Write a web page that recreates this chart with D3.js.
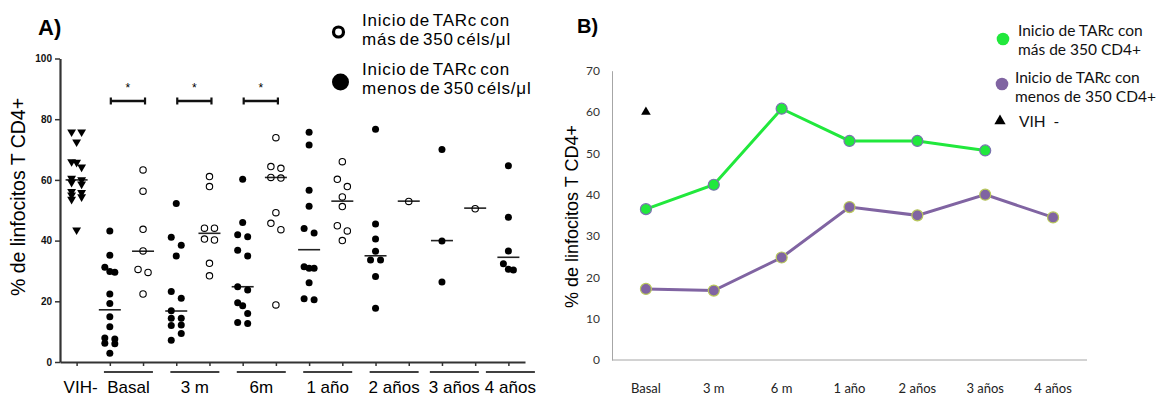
<!DOCTYPE html>
<html><head><meta charset="utf-8">
<script src="https://cdn.jsdelivr.net/npm/d3@7"></script>
<style>body{margin:0;background:#fff}svg{display:block}</style>
</head><body>
<svg id="c" width="1162" height="396"></svg>
<script>
// ---------------- DATA ----------------
const timeLabelsA = ["Basal","3 m","6m","1 año","2 años","3 años","4 años"];
const timeLabelsB = ["Basal","3 m","6 m","1 año","2 años","3 años","4 años"];
const vihLabel = "VIH-";
const yTicksA = [0,20,40,60,80,100];
const yTicksB = [0,10,20,30,40,50,60,70];

// Panel A individual values (% CD4+)
const vihValues = [75.8,75.8,72.5,66.0,65.8,64.2,60.5,60.0,59.2,58.6,56.2,55.8,55.0,54.4,53.6,43.5];
const menosBasal = [43.2,35.2,31.2,29.8,29.6,22.4,19.3,14.9,11.6,7.9,7.6,6.2,6.0,2.9];
const menos3m    = [52.2,41.1,38.5,34.9,23.2,21.0,16.9,14.4,14.4,12.2,12.0,9.4,7.2];
const menos6m    = [60.2,46.0,41.9,41.3,36.8,34.9,24.8,23.7,19.5,18.5,16.0,13.0,12.7];
const menos1a    = [75.7,71.5,56.6,51.3,44.0,42.5,31.4,30.9,30.9,26.1,20.8,20.5];
const menos2a    = [76.7,45.5,40.5,36.5,33.6,33.6,28.2,17.7];
const menos3a    = [70.0,39.9,26.4];
const menos4a    = [64.7,47.7,36.6,32.4,30.6,30.3];
const masBasal = [63.3,56.3,43.7,36.6,30.5,29.5,22.4];
const mas3m    = [61.1,57.8,44.1,44.1,40.5,40.2,32.5,28.4];
const mas6m    = [73.9,64.4,63.8,60.8,60.6,49.2,45.7,43.6,18.8];
const mas1a    = [66.0,60.2,57.8,54.4,51.2,44.9,43.2,40.0];
const mas2a    = [52.9];
const mas3a    = [50.5];
const mas4a    = [];
const menosPoints = [menosBasal,menos3m,menos6m,menos1a,menos2a,menos3a,menos4a];
const masPoints   = [masBasal,mas3m,mas6m,mas1a,mas2a,mas3a,mas4a];

// Central values (panel A lines = panel B series)
const masLine   = [36.5,42.4,60.8,53.0,53.0,50.7,null];
const menosLine = [17.2,16.8,24.8,37.0,35.0,40.0,34.5];
const vihLine   = 60;

// Significance (*) groups in panel A
const sigIndex = [0,1,2];
const sigValue = 86;

// Legend texts
const legA = [["Inicio de TARc con","más de 350 céls/μl"],["Inicio de TARc con","menos de 350 céls/μl"]];
const legB = [["Inicio de TARc con","más de 350 CD4+"],["Inicio de TARc con","menos de 350 CD4+"],["VIH  -"]];
const yTitle = "% de linfocitos T CD4+";

// ---------------- DRAW ----------------
const svg = d3.select("#c");
const fA = "'Liberation Sans', Arial, sans-serif";
const fB = "Lato, 'Open Sans', sans-serif";

// ===== Panel A =====
const xA = d3.scaleLinear([-0.5,13.5],[60,525]);
const yA = d3.scaleLinear([0,100],[362,58.5]);
const gA = svg.append("g");

gA.append("text").attr("x",38).attr("y",35).attr("font-family",fA).attr("font-weight","bold")
  .attr("font-size",22).text("A)");

gA.append("text").attr("transform",`translate(25,197) rotate(-90)`)
  .attr("text-anchor","middle").attr("font-family",fA).attr("font-size",19.5).text(yTitle);

const axY = gA.append("g").attr("transform","translate(60,0)")
  .call(d3.axisLeft(yA).tickValues(yTicksA).tickSize(5).tickSizeOuter(0).tickPadding(3));
axY.select(".domain").attr("stroke","#333").attr("stroke-width",2.2);
axY.selectAll(".tick line").attr("stroke","#333").attr("stroke-width",1.5);
axY.selectAll(".tick text").attr("font-family",fA).attr("font-weight","bold").attr("font-size",10).attr("fill","#111");

const axX = gA.append("g").attr("transform",`translate(0,${yA(0)})`)
  .call(d3.axisBottom(xA).tickValues(d3.range(14)).tickFormat("").tickSize(4).tickSizeOuter(0));
axX.select(".domain").attr("stroke","#333").attr("stroke-width",2.2);
axX.selectAll(".tick line").attr("stroke","#333").attr("stroke-width",1.5);

// columns
const cols = [{pos:0, vals:vihValues, kind:"tri", med:vihLine}];
timeLabelsA.forEach((t,i)=>{
  cols.push({pos:1+2*i, vals:menosPoints[i], kind:"closed", med:menosLine[i]});
  if (masPoints[i].length) cols.push({pos:2+2*i, vals:masPoints[i], kind:"open", med:masLine[i]});
});

function dodge(vals){
  const order = vals.map((v,i)=>i).sort((a,b)=>vals[b]-vals[a]);
  const rows = [];
  order.forEach(i=>{
    const last = rows.length ? rows[rows.length-1] : null;
    if (last && Math.abs(yA(vals[last[last.length-1]]) - yA(vals[i])) < 8.2) last.push(i);
    else rows.push([i]);
  });
  const off = new Array(vals.length).fill(0);
  rows.forEach(r=>{
    const n=r.length;
    r.forEach((i,k)=>{
      if (n===1) off[i]=0;
      else if (n===3) off[i]=(k-1)*5;
      else off[i]= (k%2===0?-5:5);
    });
  });
  return off;
}

// median lines
cols.forEach(c=>{
  if (c.med==null) return;
  gA.append("line").attr("x1",xA(c.pos)-11).attr("x2",xA(c.pos)+11)
    .attr("y1",yA(c.med)).attr("y2",yA(c.med)).attr("stroke","#222").attr("stroke-width",1.6);
});

// points
cols.forEach(c=>{
  const off = dodge(c.vals);
  const g = gA.append("g");
  c.vals.forEach((v,i)=>{
    const cx = xA(c.pos)+off[i], cy = yA(v);
    if (c.kind==="tri"){
      g.append("path").attr("d",d3.symbol(d3.symbolTriangle,34)())
        .attr("transform",`translate(${cx},${cy}) rotate(180)`).attr("fill","#000");
    } else if (c.kind==="closed"){
      g.append("circle").attr("cx",cx).attr("cy",cy).attr("r",3.5).attr("fill","#000");
    } else {
      g.append("circle").attr("cx",cx).attr("cy",cy).attr("r",3.2).attr("fill","none")
        .attr("stroke","#000").attr("stroke-width",1.1);
    }
  });
});

// group labels (centered on their columns, nudged apart if they collide) and underlines
const allLabels = [vihLabel].concat(timeLabelsA);
const centers = [xA(0)+4].concat(timeLabelsA.map((t,i)=> masPoints[i].length ? (xA(1+2*i)+xA(2+2*i))/2+2 : xA(1+2*i)+2));
const labNodes = allLabels.map((lab,i)=> gA.append("text").attr("y",393).attr("text-anchor","middle")
    .attr("font-family",fA).attr("font-size",17).text(lab));
const widths = labNodes.map(n=>n.node().getComputedTextLength());
for (let i=centers.length-2;i>=0;i--){
  const maxC = centers[i+1] - (widths[i]+widths[i+1])/2 - 5;
  if (centers[i] > maxC) centers[i] = maxC;
}
labNodes.forEach((n,i)=>{
  n.attr("x",centers[i]);
  if (i>0) gA.append("line").attr("x1",centers[i]-24.5).attr("x2",centers[i]+24.5).attr("y1",372).attr("y2",372)
    .attr("stroke","#000").attr("stroke-width",1.5);
});

// significance brackets
sigIndex.forEach(i=>{
  const x1 = xA(1+2*i)+1, x2 = xA(2+2*i)+2, yy = yA(sigValue);
  gA.append("line").attr("x1",x1).attr("x2",x2).attr("y1",yy).attr("y2",yy).attr("stroke","#111").attr("stroke-width",2.4);
  [x1,x2].forEach(x=> gA.append("line").attr("x1",x).attr("x2",x).attr("y1",yy-3.5).attr("y2",yy+3.5).attr("stroke","#111").attr("stroke-width",2.2));
  gA.append("text").attr("x",(x1+x2)/2).attr("y",yy-9).attr("text-anchor","middle")
    .attr("font-family",fA).attr("font-size",12).text("*");
});

// legend A
const legAy = [[25.5,44.5],[74.5,93.5]];
gA.append("circle").attr("cx",338.5).attr("cy",32).attr("r",5).attr("fill","#fff").attr("stroke","#000").attr("stroke-width",3.2);
gA.append("circle").attr("cx",340.5).attr("cy",82).attr("r",8.5).attr("fill","#000");
legA.forEach((lines,k)=>lines.forEach((t,j)=>{
  gA.append("text").attr("x",362).attr("y",legAy[k][j]).attr("font-family",fA).attr("font-size",17)
    .attr("letter-spacing","0.8").attr("word-spacing","-2.5").text(t);
}));

// ===== Panel B =====
const xB = d3.scalePoint(timeLabelsB,[612,1087]).padding(0.5);
const yB = d3.scaleLinear([0,70],[360,70.7]);
const gB = svg.append("g");

gB.append("text").attr("x",577).attr("y",33).attr("font-family",fA).attr("font-weight","bold")
  .attr("font-size",20).text("B)");

gB.append("text").attr("transform",`translate(578,${(123+310)/2}) rotate(-90)`)
  .attr("text-anchor","middle").attr("font-family",fA).attr("font-size",18).text(yTitle);

const byAx = gB.append("g").attr("transform","translate(612,0)")
  .call(d3.axisLeft(yB).tickValues(yTicksB).tickSize(0).tickSizeOuter(0).tickPadding(12));
byAx.select(".domain").attr("stroke","#a6a6a6").attr("stroke-width",1);
byAx.selectAll(".tick text").attr("font-family",fB).attr("font-size",12).attr("fill","#333");

gB.append("line").attr("x1",612).attr("x2",1087).attr("y1",yB(0)).attr("y2",yB(0))
  .attr("stroke","#a6a6a6").attr("stroke-width",1);
timeLabelsB.forEach(t=>{
  gB.append("text").attr("x",xB(t)).attr("y",393).attr("text-anchor","middle")
    .attr("font-family",fB).attr("font-size",13).attr("fill","#222").text(t);
});

const green = "#21e83c", purple = "#8064a2";
const line = d3.line().defined(d=>d.v!=null).x(d=>xB(d.t)).y(d=>yB(d.v));
const masData = timeLabelsB.map((t,i)=>({t, v:masLine[i]}));
const menosData = timeLabelsB.map((t,i)=>({t, v:menosLine[i]}));
gB.append("path").datum(menosData).attr("d",line).attr("fill","none").attr("stroke",purple).attr("stroke-width",3);
gB.append("path").datum(masData).attr("d",line).attr("fill","none").attr("stroke",green).attr("stroke-width",3);
gB.selectAll(".pm").data(menosData.filter(d=>d.v!=null)).join("circle")
  .attr("cx",d=>xB(d.t)).attr("cy",d=>yB(d.v)).attr("r",5.5).attr("fill",purple).attr("stroke","#b8c85a").attr("stroke-width",1.2);
gB.selectAll(".gm").data(masData.filter(d=>d.v!=null)).join("circle")
  .attr("cx",d=>xB(d.t)).attr("cy",d=>yB(d.v)).attr("r",5.5).attr("fill",green).attr("stroke","#7a70b0").attr("stroke-width",1.2);
gB.append("path").attr("d",d3.symbol(d3.symbolTriangle,40)())
  .attr("transform",`translate(${xB(timeLabelsB[0])},${yB(vihLine)})`).attr("fill","#000");

// legend B
gB.append("circle").attr("cx",1003).attr("cy",39).attr("r",6.3).attr("fill",green);
gB.append("circle").attr("cx",1002).attr("cy",84).attr("r",6.3).attr("fill",purple);
gB.append("path").attr("d",d3.symbol(d3.symbolTriangle,55)()).attr("transform","translate(1000,121)").attr("fill","#000");
const legBpos = [[1018,[36,55]],[1015,[83,102]],[1019,[127]]];
legB.forEach((lines,k)=>lines.forEach((t,j)=>{
  gB.append("text").attr("x",legBpos[k][0]).attr("y",legBpos[k][1][j]).attr("font-family",fB)
    .attr("font-size",15.5).attr("fill","#111").style("white-space","pre").text(t);
}));
</script>
</body></html>
